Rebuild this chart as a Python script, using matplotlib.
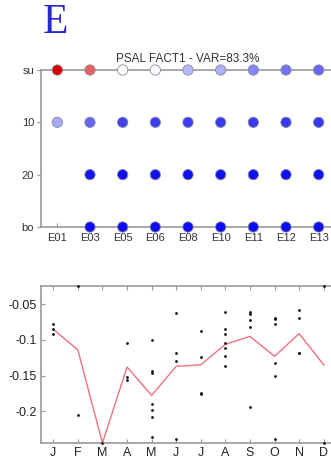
import numpy as np
import matplotlib
matplotlib.use('Agg')
import matplotlib.pyplot as plt
from matplotlib.colors import LinearSegmentedColormap

plt.rcParams['font.family'] = ['Liberation Sans', 'DejaVu Sans']

# top panel: factor loadings per station and depth
stations = ['E01', 'E03', 'E05', 'E06', 'E08', 'E10', 'E11', 'E12', 'E13']
depth_pos = [0, 10, 20, 30]
depth_labels = ['su', '10', '20', 'bo']
loadings = [
    [1.00, 0.62, 0.00, -0.02, -0.28, -0.32, -0.48, -0.54, -0.60],   # su
    [-0.34, -0.60, -0.74, -0.76, -0.76, -0.77, -0.78, -0.78, -0.78],  # 10
    [np.nan, -0.92, -0.93, -0.93, -0.93, -0.93, -0.93, -0.93, -0.93],  # 20
    [np.nan, -0.95, -0.95, -0.95, -0.95, -0.95, -0.95, -0.95, -0.95],  # bo
]

# bottom panel: monthly values and monthly mean
months = ['J', 'F', 'M', 'A', 'M', 'J', 'J', 'A', 'S', 'O', 'N', 'D']
month_values = [
    [-0.078, -0.085, -0.091],
    [-0.024, -0.205],
    [-0.245],
    [-0.104, -0.152, -0.157],
    [-0.100, -0.144, -0.146, -0.190, -0.199, -0.208, -0.237],
    [-0.062, -0.118, -0.130, -0.240],
    [-0.087, -0.124, -0.175, -0.176],
    [-0.060, -0.085, -0.091, -0.104, -0.111, -0.123, -0.136],
    [-0.061, -0.063, -0.072, -0.082, -0.194],
    [-0.069, -0.071, -0.077, -0.132, -0.151, -0.240],
    [-0.058, -0.069, -0.118, -0.119],
    [-0.024, -0.245],
]
month_mean = [-0.085, -0.114, -0.245, -0.138, -0.178, -0.137, -0.135,
              -0.106, -0.095, -0.123, -0.091, -0.135]

W, H = 331, 458
fig = plt.figure(figsize=(W / 100, H / 100), dpi=100)
spine_c = '#999999'

# ---- top panel
ax1 = fig.add_axes([41 / W, 1 - 227 / H, 294 / W, 157 / H])
cmap = LinearSegmentedColormap.from_list('bwr2', ['#0000f5', '#ffffff', '#d80000'])
xs, ys, cs = [], [], []
for j, row in enumerate(loadings):
    for i, v in enumerate(row):
        if not np.isnan(v):
            xs.append(i + 1)
            ys.append(depth_pos[j])
            cs.append(v)
ax1.scatter(xs, ys, c=cs, cmap=cmap, vmin=-1, vmax=1, s=55,
            edgecolors='#8a8a9a', linewidths=0.6, clip_on=False, zorder=3)
ax1.set_xlim(0.5, 9.5)
ax1.set_ylim(30, 0)
ax1.set_xticks(range(1, len(stations) + 1))
ax1.set_xticklabels(stations)
ax1.set_yticks(depth_pos)
ax1.set_yticklabels(depth_labels)
ax1.tick_params(axis='x', direction='in', length=3, labelsize=8, pad=4,
                colors=spine_c, labelcolor='#333333')
ax1.tick_params(axis='y', direction='out', length=3, labelsize=8, pad=2,
                colors=spine_c, labelcolor='#333333')
for s in ax1.spines.values():
    s.set_color(spine_c)
    s.set_linewidth(1.2)
ax1.set_title('PSAL FACT1 - VAR=83.3%', fontsize=8.5, color='#333333', pad=6)

fig.text(55 / W, 1 - 23 / H, 'E', family='Liberation Serif', fontsize=30,
         color='#2828d0', ha='center', va='center')

# ---- bottom panel
ax2 = fig.add_axes([41 / W, 1 - 443 / H, 295 / W, 157 / H])
x = np.arange(1, 13)
for i, vals in enumerate(month_values):
    ax2.plot([x[i]] * len(vals), vals, '.', color='#111111', ms=2,
             clip_on=False, zorder=3)
ax2.plot(x, month_mean, '-', color='#f27080', lw=1, clip_on=False, zorder=2)
ax2.set_xlim(0.5, 12.5)
ax2.set_ylim(-0.245, -0.024)
ax2.set_xticks(x)
ax2.set_xticklabels(months)
ax2.set_yticks([-0.2, -0.15, -0.1, -0.05])
ax2.set_yticklabels(['-0.2', '-0.15', '-0.1', '-0.05'])
ax2.tick_params(axis='both', direction='in', length=3, labelsize=9,
                colors=spine_c, labelcolor='#222222', top=True)
ax2.tick_params(axis='x', pad=3)
ax2.tick_params(axis='y', pad=3)
for s in ax2.spines.values():
    s.set_color(spine_c)
    s.set_linewidth(1.2)

fig.savefig('out.png', dpi=100)
